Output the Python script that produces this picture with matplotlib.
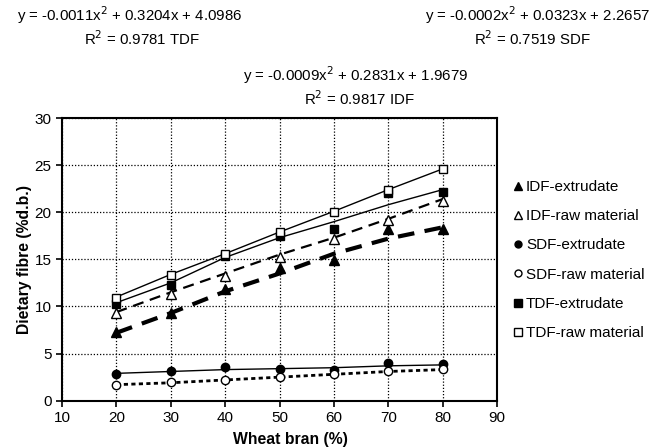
import matplotlib.pyplot as plt
from matplotlib.lines import Line2D

plt.rcParams['font.family'] = ['Liberation Sans', 'DejaVu Sans']

# Wheat bran content (%)
x = [20, 30, 40, 50, 60, 70, 80]

# measured points
idf_ext = [7.3, 9.3, 11.9, 14.1, 14.9, 18.2, 18.2]
idf_raw = [9.3, 11.3, 13.2, 15.2, 17.2, 19.2, 21.2]
sdf_ext = [2.8, 3.1, 3.6, 3.4, 3.3, 4.0, 3.9]
sdf_raw = [1.7, 1.95, 2.2, 2.5, 2.8, 3.1, 3.4]
tdf_ext = [10.3, 12.3, 15.4, 17.5, 18.2, 22.0, 22.1]
tdf_raw = [10.9, 13.3, 15.6, 17.9, 20.0, 22.4, 24.6]

# drawn (smoothed) lines
idf_ext_line = [7.2, 9.3, 11.6, 13.5, 15.6, 17.2, 18.4]
idf_raw_line = [9.4, 11.5, 13.5, 15.5, 17.3, 19.3, 21.4]
sdf_ext_line = [2.9, 3.1, 3.3, 3.4, 3.5, 3.7, 3.8]
sdf_raw_line = [1.7, 1.9, 2.2, 2.5, 2.8, 3.1, 3.3]
tdf_ext_line = [10.4, 12.5, 15.2, 17.3, 19.0, 20.8, 22.4]
tdf_raw_line = [11.0, 13.4, 15.6, 17.9, 20.1, 22.4, 24.6]

labels = ['IDF-extrudate', 'IDF-raw material', 'SDF-extrudate',
          'SDF-raw material', 'TDF-extrudate', 'TDF-raw material']

fig = plt.figure(figsize=(6.52, 4.48), dpi=100)
ax = fig.add_axes([0.095, 0.1056, 0.6675, 0.631])

# lines
ax.plot(x, tdf_raw_line, color='black', lw=1.0)
ax.plot(x, tdf_ext_line, color='black', lw=1.0)
ax.plot(x, idf_raw_line, color='black', lw=1.6, dashes=(5, 3))
ax.plot(x, idf_ext_line, color='black', lw=3.0, dashes=(4, 2.5))
ax.plot(x, sdf_ext_line, color='black', lw=1.0)
ax.plot(x, sdf_raw_line, color='black', lw=2.0, dashes=(1.5, 1.2))

# markers
ms = 7
ax.plot(x, idf_ext, ls='none', marker='^', ms=ms, mfc='black', mec='black', zorder=5)
ax.plot(x, idf_raw, ls='none', marker='^', ms=ms, mfc='white', mec='black', zorder=5)
ax.plot(x, sdf_ext, ls='none', marker='o', ms=ms - 1, mfc='black', mec='black', zorder=5)
ax.plot(x, sdf_raw, ls='none', marker='o', ms=ms - 1, mfc='white', mec='black', zorder=5)
ax.plot(x, tdf_ext, ls='none', marker='s', ms=ms - 1, mfc='black', mec='black', zorder=5)
ax.plot(x, tdf_raw, ls='none', marker='s', ms=ms - 1, mfc='white', mec='black', zorder=5)

ax.set_xlim(10, 90)
ax.set_ylim(0, 30)
ax.set_xticks(range(10, 91, 10))
ax.set_yticks(range(0, 31, 5))
ax.grid(True, color='black', ls=(0, (1, 1.5)), lw=0.9)
for s in ax.spines.values():
    s.set_linewidth(1.5)
ax.tick_params(labelsize=11, width=1.2, length=4)
ax.set_xlabel('Wheat bran (%)', fontsize=11.3, fontweight='bold')
ax.xaxis.set_label_coords(0.524, -0.11)
ax.set_ylabel('Dietary fibre (%d.b.)', fontsize=11.3, fontweight='bold', labelpad=2)

# legend
handles = [
    Line2D([], [], ls='none', marker='^', ms=6, mfc='black', mec='black'),
    Line2D([], [], ls='none', marker='^', ms=6, mfc='white', mec='black'),
    Line2D([], [], ls='none', marker='o', ms=5, mfc='black', mec='black'),
    Line2D([], [], ls='none', marker='o', ms=5, mfc='white', mec='black'),
    Line2D([], [], ls='none', marker='s', ms=6, mfc='black', mec='black'),
    Line2D([], [], ls='none', marker='s', ms=6, mfc='white', mec='black'),
]
fig.legend(handles, labels, loc='upper left', bbox_to_anchor=(0.775, 0.6155),
           frameon=False, fontsize=11, handlelength=0.6, handletextpad=0.25,
           labelspacing=1.0, borderpad=0)

# equations
fs = 10.8
fig.text(0.198, 0.967, 'y = -0.0011x$^2$ + 0.3204x + 4.0986', ha='center', va='center', fontsize=fs)
fig.text(0.218, 0.913, 'R$^2$ = 0.9781 TDF', ha='center', va='center', fontsize=fs)
fig.text(0.996, 0.967, 'y = -0.0002x$^2$ + 0.0323x + 2.2657', ha='right', va='center', fontsize=fs)
fig.text(0.817, 0.913, 'R$^2$ = 0.7519 SDF', ha='center', va='center', fontsize=fs)
fig.text(0.546, 0.833, 'y = -0.0009x$^2$ + 0.2831x + 1.9679', ha='center', va='center', fontsize=fs)
fig.text(0.552, 0.779, 'R$^2$ = 0.9817 IDF', ha='center', va='center', fontsize=fs)

fig.savefig('out.png', dpi=100)
